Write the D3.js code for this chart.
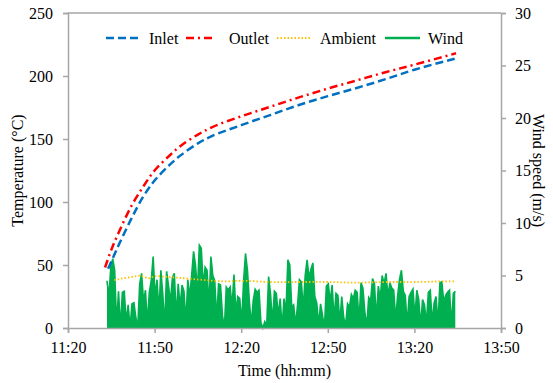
<!DOCTYPE html>
<html><head><meta charset="utf-8">
<script src="https://cdn.jsdelivr.net/npm/d3@7/dist/d3.min.js"></script>
<style>body{margin:0;background:#fff}</style>
</head><body><svg id="c" width="553" height="383" font-family="Liberation Serif" font-size="16"></svg>
<script>
// ---- data ----
const xTicks = ["11:20","11:50","12:20","12:50","13:20","13:50"];
const tempTicks = [0,50,100,150,200,250];
const windTicks = [0,5,10,15,20,25,30];
const seriesNames = ["Inlet","Outlet","Ambient","Wind"];

const inletTimes  = ["11:33:55","11:36","11:38","11:42","11:46","11:50","11:55","11:59","12:05","12:10","12:20","12:30","12:40","12:50","13:00","13:10","13:20","13:34:25"];
const inletVals   = [47,58,68,87,104,117,129,137,146.5,152.5,161,169,177,184,190.5,197.5,205,214];
const outletTimes = ["11:32:50","11:35","11:38","11:42","11:46","11:50","11:55","11:59","12:05","12:10","12:20","12:30","12:40","12:50","13:00","13:10","13:20","13:34:25"];
const outletVals  = [48,62,78,97,112,125,136.5,144.5,153.5,159.5,168,175.5,183,190,196.5,203,209,218];
const ambientTimes = ["11:36","11:38","11:42","11:45","11:48","11:50","11:55","12:00","12:05","12:10","12:15","12:20","12:30","12:40","12:50","13:00","13:10","13:20","13:30","13:34"];
const ambientVals  = [38,39,40.5,41.5,39.5,41,40.5,39.5,38.5,37.5,37,37.5,36.5,36.5,36.5,36,36.5,36.5,37,37];

const windStart = "11:33:30";   // first sample
const windStepSec = 40;         // sampling interval
const windVals = [
4.5,3.0,5.8,6.6,5.5,0.3,3.5,0,3.4,3.5,0.5,2.2,0,2.3,2.4,1.0,0,4.2,5.2,2.5,
3.6,0.4,3.4,4.5,6.8,3.0,4.6,1.5,5.5,3.2,0.2,5.4,4.0,2.5,4.8,5.2,1.0,4.2,2.0,4.1,
3.5,0.5,4.6,3.0,5.0,7.3,6.0,3.5,7.9,7.6,4.0,5.8,5.5,2.0,6.8,5.0,4.5,0.8,4.2,4.1,
1.2,0,3.9,3.6,3.9,2.0,5.1,1.5,3.0,2.8,0.4,4.5,7.1,5.5,2.5,0.3,2.6,3.7,3.4,3.6,
0.5,0,0.6,0.2,4.9,3.2,0.5,3.5,3.3,1.2,2.8,0,2.8,1.5,6.5,6.0,2.0,2.2,0.3,2.1,
4.6,4.4,1.8,5.0,6.5,4.8,5.6,6.2,3.0,2.4,0.3,2.3,1.2,0,4.0,4.2,2.5,4.1,0.8,3.3,
3.1,0.5,3.0,1.0,0.2,2.3,2.0,3.2,2.8,3.6,3.4,0.6,4.3,3.8,1.5,0.2,2.9,2.6,4.7,4.2,
0.8,4.0,2.8,5.0,4.2,5.2,3.0,4.3,3.8,3.6,0.8,3.0,4.6,5.5,3.5,3.1,0.3,3.0,3.4,3.7,
1.0,3.6,2.7,0.2,2.7,2.2,0.4,3.4,3.6,0.5,2.4,3.0,0.3,4.3,4.4,2.5,3.1,3.4,3.6,0.2,
3.3,3.5];

// ---- helpers ----
const FONT = "Liberation Serif";
const parse = s => { const p = s.split(":").map(Number); return new Date(2020,0,1,p[0],p[1],p[2]||0); };
const fmt = d3.timeFormat("%H:%M");

const svg = d3.select("#c");
const L = 68, R = 501, T = 13, B = 328;
const x = d3.scaleTime().domain([parse(xTicks[0]), parse(xTicks[xTicks.length-1])]).range([L,R]);
const yT = d3.scaleLinear().domain([0,250]).range([B,T]);
const yW = d3.scaleLinear().domain([0,30]).range([B,T]);

const axisColor = "#a6a6a6";

// wind (drawn first, under the temperature lines)
const windData = windVals.map((v,i)=>({t:new Date(parse(windStart).getTime()+i*windStepSec*1000), v}));
svg.append("path").datum(windData)
  .attr("d", d3.area().x(d=>x(d.t)).y0(yW(0)).y1(d=>yW(d.v)))
  .attr("fill","#00b050").attr("stroke","none");
svg.append("path").datum(windData)
  .attr("d", d3.line().x(d=>x(d.t)).y(d=>yW(d.v)))
  .attr("fill","none").attr("stroke","#00b050").attr("stroke-width",1.6);

// frame top
svg.append("line").attr("x1",L).attr("x2",R).attr("y1",T).attr("y2",T).attr("stroke",axisColor).attr("stroke-width",1.5);

// axes
const gx = svg.append("g").attr("transform",`translate(0,${B})`)
  .call(d3.axisBottom(x).tickValues(xTicks.map(parse)).tickFormat(fmt).tickSize(5).tickPadding(9));
const gl = svg.append("g").attr("transform",`translate(${L},0)`)
  .call(d3.axisLeft(yT).tickValues(tempTicks).tickSize(5).tickPadding(10));
const gr = svg.append("g").attr("transform",`translate(${R},0)`)
  .call(d3.axisRight(yW).tickValues(windTicks).tickSize(5).tickPadding(9));
[gx,gl,gr].forEach(g=>{
  g.attr("font-family", FONT).attr("font-size", 16);
  g.selectAll("path.domain").attr("stroke",axisColor).attr("stroke-width",1.5);
  g.selectAll(".tick line").attr("stroke",axisColor).attr("stroke-width",1.5);
  g.selectAll("text").attr("font-family",FONT).attr("font-size",16).attr("fill","#000");
});

// ambient
const mk = (ts,vs)=>ts.map((t,i)=>({t:parse(t),v:vs[i]}));
const tline = d3.line().x(d=>x(d.t)).y(d=>yT(d.v)).curve(d3.curveCatmullRom.alpha(0.5));
svg.append("path").datum(mk(ambientTimes,ambientVals)).attr("d",tline)
  .attr("fill","none").attr("stroke","#ffc000").attr("stroke-width",1.8).attr("stroke-dasharray","1.5,2");
// inlet
svg.append("path").datum(mk(inletTimes,inletVals)).attr("d",tline)
  .attr("fill","none").attr("stroke","#0070c0").attr("stroke-width",2.5).attr("stroke-dasharray","8,4");
// outlet
svg.append("path").datum(mk(outletTimes,outletVals)).attr("d",tline)
  .attr("fill","none").attr("stroke","#ff0000").attr("stroke-width",2.5).attr("stroke-dasharray","8,4,2,4");

// legend
const leg = [
  {name:seriesNames[0], c:"#0070c0", dash:"8,4", w:2.5, x1:106, x2:141, tx:149},
  {name:seriesNames[1], c:"#ff0000", dash:"8,4,2,4", w:2.5, x1:186, x2:216, tx:229},
  {name:seriesNames[2], c:"#ffc000", dash:"1.5,2", w:1.8, x1:277, x2:312, tx:320},
  {name:seriesNames[3], c:"#00b050", dash:null, w:2.5, x1:385, x2:420, tx:428}
];
leg.forEach(l=>{
  const ln = svg.append("line").attr("x1",l.x1).attr("x2",l.x2).attr("y1",38).attr("y2",38)
    .attr("stroke",l.c).attr("stroke-width",l.w);
  if(l.dash) ln.attr("stroke-dasharray",l.dash);
  svg.append("text").attr("x",l.tx).attr("y",43.5).attr("font-family",FONT).attr("font-size",16).text(l.name);
});

// axis titles
svg.append("text").attr("transform",`translate(23,${(T+B)/2}) rotate(-90)`).attr("text-anchor","middle")
  .attr("font-family",FONT).attr("font-size",16).text("Temperature (°C)");
svg.append("text").attr("transform",`translate(533,${(T+B)/2}) rotate(90)`).attr("text-anchor","middle")
  .attr("font-family",FONT).attr("font-size",16).text("Wind speed (m/s)");
svg.append("text").attr("x",(L+R)/2).attr("y",376).attr("text-anchor","middle")
  .attr("font-family",FONT).attr("font-size",16).text("Time (hh:mm)");
</script></body></html>
